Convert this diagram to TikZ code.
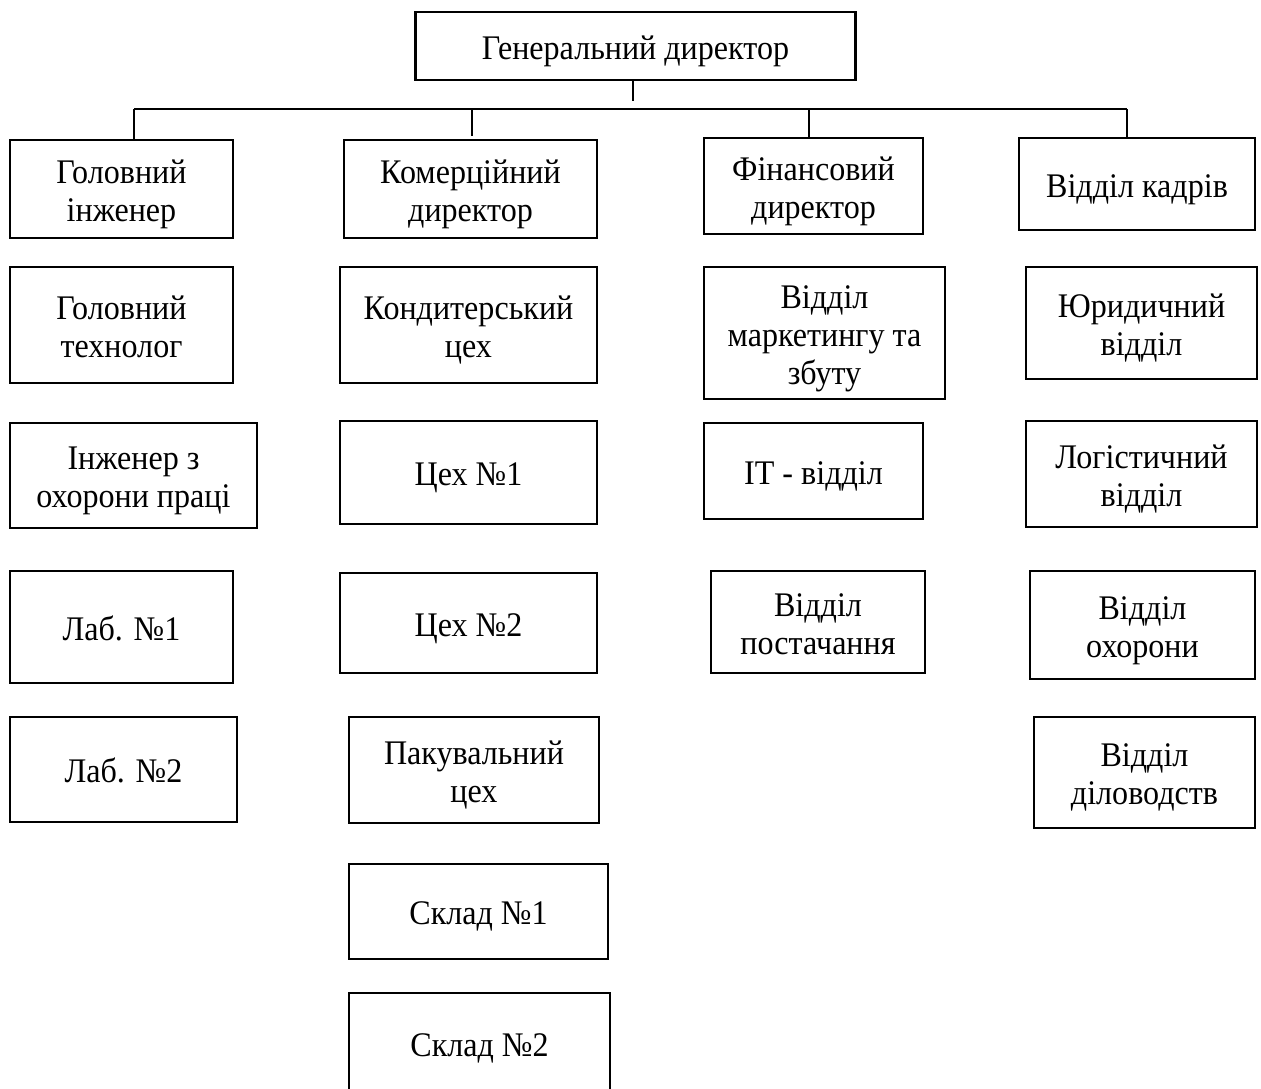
\documentclass[tikz,border=0pt]{standalone}
\usepackage{fontspec}
\setmainfont[FakeStretch=0.93]{Liberation Serif}
\begin{document}
\begin{tikzpicture}[x=1pt,y=-1pt,
  box/.style={draw, line width=2.6pt, inner sep=0pt, font=\fontsize{34.5}{38}\selectfont},
  conn/.style={line width=1.1pt}]
\useasboundingbox (0,0) rectangle (1261,1088);
\newcommand\bx[6]{\node[box, minimum width=#4pt, minimum height=#5pt] (#1) at (#2,#3)
  {\raisebox{-5.5pt}[\height][\depth]{\begin{tabular}{@{}c@{}}#6\end{tabular}}};}
\bx{top}{635.5}{46}{440}{68}{Генеральний директор}
\bx{c1a}{121.5}{189}{223}{98}{Головний\\інженер}
\bx{c1b}{121.5}{325}{223}{116}{Головний\\технолог}
\bx{c1c}{133.5}{475.5}{247}{105}{Інженер з\\охорони праці}
\bx{c1d}{121.5}{627}{223}{112}{Лаб. №1}
\bx{c1e}{123.5}{769.5}{227}{105}{Лаб. №2}
\bx{c2a}{470.5}{189}{253}{98}{Комерційний\\директор}
\bx{c2b}{468.5}{325}{257}{116}{Кондитерський\\цех}
\bx{c2c}{468.5}{472.5}{257}{103}{Цех №1}
\bx{c2d}{468.5}{623}{257}{100}{Цех №2}
\bx{c2e}{474}{770}{250}{106}{Пакувальний\\цех}
\bx{c2f}{478.5}{911.5}{259}{95}{Склад №1}
\bx{c2g}{479.5}{1043.5}{261}{101}{Склад №2}
\bx{c3a}{813.5}{186}{219}{96}{Фінансовий\\директор}
\bx{c3b}{824.5}{333}{241}{132}{Відділ\\маркетингу та\\збуту}
\bx{c3c}{813.5}{471}{219}{96}{IT - відділ}
\bx{c3d}{818}{622}{214}{102}{Відділ\\постачання}
\bx{c4a}{1137}{184}{236}{92}{Відділ кадрів}
\bx{c4b}{1141.5}{323}{231}{112}{Юридичний\\відділ}
\bx{c4c}{1141.5}{474}{231}{106}{Логістичний\\відділ}
\bx{c4d}{1142.5}{625}{225}{108}{Відділ\\охорони}
\bx{c4e}{1144.5}{772.5}{221}{111}{Відділ\\діловодств}
\coordinate (t) at (633,109);
\coordinate (b1) at (134,109);
\coordinate (b2) at (472,109);
\coordinate (b3) at (809,109);
\coordinate (b4) at (1127,109);
\draw[conn] (top.south -| t) -- ([yshift=8pt]t);
\draw[conn] (b1) -- (b4);
\draw[conn] (b1) -- (b1 |- c1a.north);
\draw[conn] (b2) -- ([yshift=3pt]b2 |- c2a.north);
\draw[conn] (b3) -- (b3 |- c3a.north);
\draw[conn] (b4) -- (b4 |- c4a.north);
\end{tikzpicture}
\end{document}
